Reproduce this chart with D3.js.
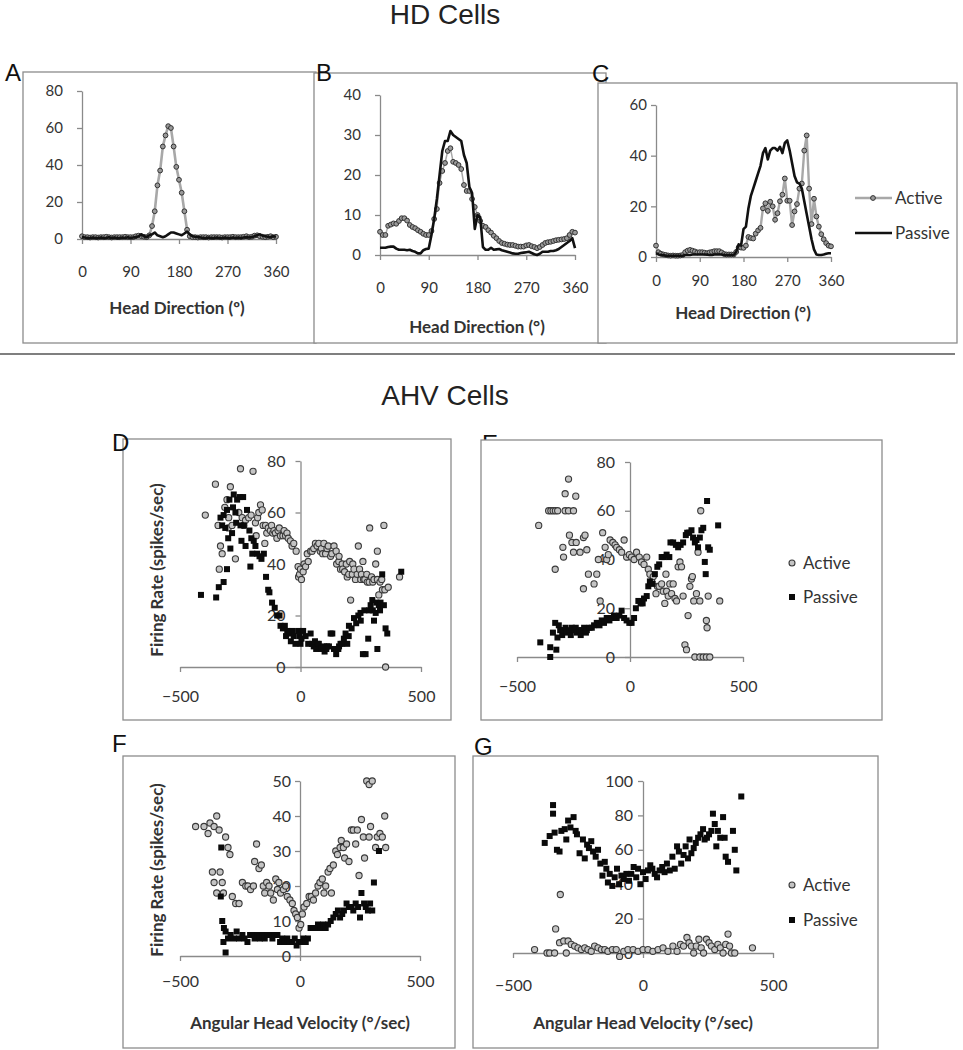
<!DOCTYPE html>
<html>
<head>
<meta charset="utf-8">
<script src="https://cdn.jsdelivr.net/npm/d3@7"></script>
<style>
  body { margin: 0; background: #fff; }
  svg text { font-family: Lato, "Open Sans", sans-serif; fill: #333; }
  .big { font-family: "Liberation Sans", Arial, sans-serif; fill: #111; }
</style>
</head>
<body>
<svg id="fig" width="963" height="1050"></svg>
<script>
// ---- HD cells: firing rate per 5 deg head-direction bin ----
const hdAngles = [0,5,10,15,20,25,30,35,40,45,50,55,60,65,70,75,80,85,90,95,100,105,110,115,120,125,130,135,140,145,150,155,160,165,170,175,180,185,190,195,200,205,210,215,220,225,230,235,240,245,250,255,260,265,270,275,280,285,290,295,300,305,310,315,320,325,330,335,340,345,350,355,360];

const aActive = [1.5,1,1,0.8,1,1,0.8,1,1,1.2, 1,0.8,1,1,1,1,1.2,1,1,1, 1.5,1.8,1.5,1.2,1,2,7,15,29,37, 50,56,61,60,50,39,32,25,15,5, 1.5,1,1,0.8,1,1,1,0.8,1,1, 1,1,0.8,1,1,1,1.2,1,1,1, 1.2,1.5,1,1.2,1.8,2,1.5,1.2,1,1.2, 1.5,1,1.2];
const aPassive = [1,0.8,0.5,0.5,0.8,0.5,0.5,0.8,0.5,0.5, 1,0.5,0.8,0.5,0.5,0.8,0.5,1,0.5,0.8, 1,1.5,2.5,1.5,1,2,2.5,3.5,2,1.5, 1,1.5,2.5,3.5,3.5,3,2.5,2,3,4, 2.5,1.5,1.2,1,0.8,0.5,0.5,0.8,0.5,0.5, 0.8,0.5,0.5,0.8,0.5,0.5,0.8,0.5,0.8,0.5, 0.8,1,0.8,1,1.5,2,2.5,1.8,1.5,1.2, 1,1.5,1.2];

const bActive = [5.8,5,5,7.3,7.6,7.9,7.8,8.5,9.2,9.2, 8.6,7.5,7,6.7,6.2,5.8,5.3,5,5,6, 9,11.5,18,21,23,26,26.7,23.3,23,22.5, 21.5,17.5,16,16,14,12,10,8.5,7.3,7, 6.2,5.6,4.8,4.2,3.5,3,2.8,2.6,2.5,2.5, 2.3,2.1,2.1,2.1,2.4,2.5,2.2,2,1.7,2, 2.5,3,3.2,3.3,3.5,3.7,3.8,3.9,4,4.2, 5,5.8,5.6];
const bPassive = [1.8,1.8,1.8,2,2.1,2.1,1.6,1.3,1.3,1.3, 1.2,1.3,1,0.8,0.4,0.4,1.2,1.5,1.6,5, 9,14,20,26,28.5,28.5,31,30,29.5,29, 28.5,25,23,17,15.5,6.5,10,9.5,2,1.3, 1.3,1.8,1.3,1.4,1.5,1.2,1,0.8,0.6,0.4, 0.3,0.3,0.5,0.6,0.7,0.8,0.5,0.2,0,0.3, 0.8,0.8,0.8,1,1,1.2,1.5,2,2.5,3, 3.5,4.2,1.7];

const cActive = [4.5,1.9,1.3,1,0.8,0.6,0.5,0.6,0.5,0.5, 0.6,0.8,1.9,2.5,2.8,2.5,2.2,1.8,1.9,1.9, 1.7,1.5,1.8,2,2.3,2.3,2.3,1.8,1.2,1, 1,1,1,2,3.8,3.7,3.6,4.5,7.9,7.5, 7.3,9.2,10.5,11.5,19.2,21.2,18.2,21.8,20,14.7, 17.3,22,24.6,31,22.2,22.2,12.6,18,20.9,27, 29,42,48,27,13,23,16,12,9,7, 5.5,4.5,4.2];
const cPassive = [1.5,1,0.8,0.8,0.5,0.5,0.5,0.5,0.5,0.5, 0.5,0.5,0.8,0.8,0.8,1,1,1,1,1, 1,1,0.8,0.8,1,1,1,1,0.8,0.8, 0.8,0.8,0.8,2,5,4.5,11,12,19,24, 27,30,33,36,41,43,38.5,42,43,43, 42,43.5,41,45,46,42,37,32,29.5,29, 27,22,17,12,7,3,1,0.8,0.8,1, 1.3,1.5,1.5];

// ---- AHV cells: [angular head velocity, firing rate] ----
const dActive = [[-395,59],[-353,71],[-342,55],[-337,38],[-332,47],[-325,44],[-314,62],[-305,65],[-300,54],[-298,58],[-291,70],[-284,55],[-270,42],[-256,60],[-249,77],[-242,58],[-235,55],[-228,57],[-215,58],[-205,59],[-197,76],[-187,56],[-184,51],[-178,58],[-173,60],[-166,63],[-159,61],[-155,55],[-148,48],[-145,55],[-140,52],[-134,54],[-125,53],[-120,55],[-115,52],[-110,53],[-104,52],[-98,50],[-93,53],[-88,54],[-83,51],[-73,51],[-68,53],[-62,51],[-56,52],[-51,50],[-42,49],[-35,47],[-28,48],[-18,45],[-10,39],[-8,35],[-4,36],[0,38],[4,34],[11,37],[15,40],[21,39],[28,44],[32,41],[42,45],[48,45],[55,46],[62,48],[69,47],[76,48],[82,45],[87,46],[92,44],[97,48],[104,44],[110,46],[115,47],[125,43],[130,44],[139,47],[148,45],[150,40],[159,41],[160,43],[166,38],[173,40],[175,38],[183,37],[190,40],[194,35],[200,36],[204,41],[208,26],[215,36],[217,40],[222,38],[228,34],[235,36],[240,47],[245,38],[250,34],[253,36],[259,41],[262,34],[267,34],[275,36],[277,33],[285,33],[287,54],[295,35],[300,33],[305,34],[312,40],[319,45],[319,34],[325,28],[330,33],[337,34],[340,30],[346,55],[350,30],[353,0],[364,31],[411,35]];
const dPassive = [[-413,28],[-350,27],[-339,31],[-319,33],[-305,38],[-332,58],[-325,55],[-312,54],[-319,59],[-305,61],[-300,50],[-295,65],[-280,62],[-277,67],[-270,60],[-263,65],[-252,66],[-238,66],[-291,46],[-284,52],[-267,56],[-249,55],[-245,49],[-235,55],[-228,47],[-222,61],[-212,53],[-204,50],[-200,44],[-194,49],[-187,47],[-180,44],[-170,43],[-162,42],[-152,44],[-208,39],[-143,35],[-134,30],[-129,29],[-118,25],[-107,23],[-97,20],[-87,20],[-83,16],[-73,15],[-65,16],[-60,12],[-55,14],[-46,13],[-40,10],[-35,14],[-28,12],[-21,9],[-10,14],[-4,12],[0,9],[4,11],[11,14],[21,12],[32,9],[42,13],[48,9],[55,8],[60,10],[65,7],[70,9],[76,9],[87,7],[97,8],[100,6],[107,7],[110,8],[118,8],[125,13],[132,13],[139,7],[148,5],[157,7],[160,8],[166,9],[173,9],[180,11],[187,13],[194,9],[200,12],[201,16],[212,15],[222,19],[231,17],[240,20],[249,21],[250,18],[259,5],[265,22],[270,5],[281,11],[285,22],[291,24],[298,26],[300,22],[305,18],[312,21],[315,25],[319,7],[325,24],[330,22],[332,25],[339,36],[346,24],[353,15],[360,13],[418,37]];

const eActive = [[-404,54],[-331,36],[-360,60],[-350,60],[-340,60],[-330,60],[-320,60],[-287,60],[-272,60],[-250,60],[-272,73],[-287,67],[-240,66],[-297,45],[-294,41],[-268,50],[-257,47],[-238,47],[-250,43],[-221,43],[-206,49],[-199,50],[-191,44],[-184,34],[-206,28],[-159,30],[-147,34],[-140,40],[-132,23],[-121,51],[-110,45],[-103,40],[-96,42],[-88,48],[-76,47],[-66,46],[-59,45],[-47,44],[-37,43],[-26,48],[-15,41],[-3,42],[7,41],[18,40],[29,43],[41,41],[51,39],[62,38],[74,41],[81,36],[88,34],[96,31],[103,33],[115,26],[121,29],[129,29],[140,30],[147,27],[154,22],[159,34],[162,27],[169,25],[176,30],[184,26],[191,30],[199,24],[206,23],[213,37],[221,39],[228,37],[235,25],[243,5],[250,3],[257,17],[265,29],[272,32],[276,33],[282,23],[294,26],[301,43],[309,23],[313,60],[287,0],[309,0],[324,0],[338,0],[353,0],[338,15],[341,12],[346,25],[397,23]];
const ePassive = [[-397,6],[-353,0],[-353,4],[-341,10],[-326,3],[-321,8],[-331,14],[-315,13],[-309,11],[-300,9],[-294,11],[-285,12],[-279,10],[-268,11],[-262,9],[-257,12],[-247,11],[-240,12],[-235,10],[-224,11],[-218,9],[-213,11],[-203,12],[-195,10],[-191,11],[-179,12],[-169,12],[-159,13],[-147,14],[-135,13],[-125,15],[-115,14],[-103,16],[-91,15],[-81,16],[-71,17],[-59,16],[-47,17],[-37,19],[-26,16],[-15,15],[-3,14],[7,14],[18,16],[26,20],[37,23],[47,22],[56,22],[62,24],[74,25],[81,29],[88,31],[100,30],[110,34],[121,37],[129,38],[140,41],[150,41],[162,42],[174,41],[179,47],[191,47],[203,46],[213,45],[224,46],[235,47],[247,50],[253,51],[262,51],[272,52],[279,49],[287,47],[294,48],[301,45],[309,49],[316,52],[324,53],[331,39],[335,34],[341,64],[346,45],[353,44],[390,54]];

const fActive = [[-435,37],[-400,37],[-383,35],[-375,38],[-358,37],[-347,40],[-337,36],[-365,24],[-358,21],[-347,18],[-333,24],[-324,21],[-319,18],[-310,34],[-300,31],[-292,29],[-282,17],[-268,15],[-254,15],[-240,21],[-226,20],[-217,20],[-206,19],[-194,20],[-189,27],[-181,32],[-171,25],[-161,26],[-153,20],[-147,18],[-139,21],[-129,20],[-122,18],[-111,16],[-101,22],[-94,19],[-88,21],[-81,18],[-69,19],[-60,20],[-53,17],[-42,16],[-32,15],[-25,13],[-18,12],[-11,11],[-4,8],[3,9],[10,12],[17,14],[28,15],[38,17],[47,17],[56,16],[65,18],[75,20],[83,21],[93,22],[100,18],[107,20],[117,24],[125,25],[131,18],[139,26],[149,30],[156,29],[167,31],[172,33],[181,31],[186,28],[194,32],[204,27],[214,36],[222,36],[232,32],[239,36],[246,23],[256,39],[264,34],[269,28],[278,50],[288,49],[301,50],[288,34],[294,37],[315,31],[322,34],[333,35],[343,34],[353,40],[357,31]];
const fPassive = [[-310,1],[-328,31],[-330,17],[-324,10],[-317,8],[-319,4],[-310,7],[-300,5],[-289,6],[-275,5],[-264,7],[-254,5],[-240,6],[-231,5],[-219,4],[-208,6],[-199,6],[-189,5],[-178,6],[-167,5],[-157,6],[-147,5],[-136,6],[-125,6],[-115,5],[-106,6],[-94,6],[-83,4],[-74,5],[-64,4],[-53,5],[-42,4],[-32,4],[-22,5],[-14,3],[-4,4],[6,4],[14,5],[24,4],[33,5],[44,8],[56,8],[65,8],[75,9],[86,8],[97,9],[107,8],[117,9],[128,10],[139,11],[149,12],[158,13],[167,11],[176,12],[183,13],[194,15],[204,14],[214,14],[222,13],[232,15],[242,14],[250,11],[256,18],[267,15],[274,14],[283,13],[292,15],[301,13],[308,21],[329,30]];

const gActive = [[-417,2],[-369,0],[-359,0],[-340,0],[-336,14],[-318,34],[-321,6],[-305,7],[-288,7],[-295,0],[-276,5],[-263,4],[-250,3],[-237,2],[-224,3],[-212,2],[-199,1],[-186,4],[-173,3],[-160,2],[-147,2],[-135,1],[-118,2],[-103,2],[-90,-2],[-74,1],[-58,2],[-38,2],[-19,1],[0,2],[19,2],[38,1],[58,2],[77,3],[96,1],[115,4],[131,1],[144,5],[156,4],[169,9],[177,6],[186,4],[195,0],[205,4],[215,8],[224,3],[233,0],[244,8],[254,6],[263,4],[276,2],[288,5],[297,3],[308,0],[318,5],[327,11],[333,4],[340,0],[353,0],[421,3]];
const gPassive = [[-378,64],[-359,68],[-346,86],[-346,81],[-340,70],[-331,60],[-321,59],[-314,71],[-301,72],[-295,66],[-288,77],[-279,73],[-267,79],[-259,71],[-254,69],[-244,58],[-231,66],[-224,55],[-215,63],[-208,61],[-199,65],[-192,59],[-182,56],[-173,60],[-164,52],[-156,45],[-147,53],[-141,49],[-135,41],[-128,46],[-118,39],[-109,44],[-100,49],[-92,40],[-83,45],[-74,43],[-64,46],[-54,42],[-45,46],[-36,50],[-26,44],[-19,49],[-10,40],[0,47],[10,43],[19,48],[28,51],[36,49],[45,46],[54,44],[64,48],[74,50],[83,47],[92,52],[103,48],[113,56],[122,49],[131,62],[138,59],[147,52],[156,57],[164,62],[173,55],[179,66],[186,58],[195,61],[203,64],[212,67],[221,69],[231,72],[237,66],[246,67],[254,69],[263,71],[269,81],[276,75],[282,62],[288,71],[297,67],[308,79],[314,67],[318,56],[327,53],[346,71],[353,60],[359,48],[378,91]];

// ---- layout ----
const svg = d3.select('#fig');

function panel(cfg) {
  const x = d3.scaleLinear().domain(cfg.xDomain).range(cfg.xRange);
  const y = d3.scaleLinear().domain(cfg.yDomain).range(cfg.yRange);
  const g = svg.append('g');
  const [bx0, by0, bx1, by1] = cfg.box;

  if (cfg.letterUnder) {
    g.append('text').attr('class', 'big').attr('x', cfg.letter[1]).attr('y', cfg.letter[2])
      .attr('font-size', 24).text(cfg.letter[0]);
  }
  g.append('rect')
    .attr('x', bx0).attr('y', by0).attr('width', bx1 - bx0).attr('height', by1 - by0)
    .attr('fill', '#fff').attr('stroke', '#8c8c8c').attr('stroke-width', 1.3);
  if (!cfg.letterUnder) {
    g.append('text').attr('class', 'big').attr('x', cfg.letter[1]).attr('y', cfg.letter[2])
      .attr('font-size', 24).text(cfg.letter[0]);
  }

  const yAxis = d3.axisLeft(y).tickValues(cfg.yTicks).tickSize(5).tickSizeOuter(0).tickPadding(cfg.yPad);
  const xAxis = d3.axisBottom(x).tickValues(cfg.xTicks).tickSize(5).tickSizeOuter(0).tickPadding(cfg.xPad);

  const gx = g.append('g').attr('transform', `translate(0,${y(0)})`).call(xAxis);
  const gy = g.append('g').attr('transform', `translate(${x(0)},0)`).call(yAxis);
  [gx, gy].forEach(a => {
    a.attr('font-family', null).attr('font-size', null);
    a.selectAll('path, line').attr('stroke', '#8a8a8a').attr('stroke-width', 1.3);
    a.selectAll('text').attr('font-size', cfg.tickFont).attr('fill', '#2a2a2a');
  });

  if (cfg.xTitle) {
    g.append('text').attr('x', cfg.xTitle[1]).attr('y', cfg.xTitle[2])
      .attr('text-anchor', 'middle').attr('font-size', 17).attr('font-weight', 'bold')
      .attr('fill', '#222').text(cfg.xTitle[0]);
  }
  if (cfg.yTitle) {
    g.append('text').attr('transform', `translate(${cfg.yTitle[1]},${cfg.yTitle[2]}) rotate(-90)`)
      .attr('text-anchor', 'middle').attr('dy', '0.35em').attr('font-size', 17).attr('font-weight', 'bold')
      .attr('fill', '#222').text(cfg.yTitle[0]);
  }
  return { g, x, y };
}

function hdLines(p, active, passive, activeWidth) {
  const pts = arr => hdAngles.map((a, i) => [a, arr[i]]);
  const line = d3.line().x(d => p.x(d[0])).y(d => p.y(d[1]));
  p.g.append('path').datum(pts(active)).attr('d', line)
    .attr('fill', 'none').attr('stroke', '#a8a8a8').attr('stroke-width', activeWidth);
  p.g.append('g').selectAll('circle').data(pts(active)).join('circle')
    .attr('cx', d => p.x(d[0])).attr('cy', d => p.y(d[1])).attr('r', 2.4)
    .attr('fill', '#9a9a9a').attr('stroke', '#333').attr('stroke-width', 1);
  p.g.append('path').datum(pts(passive)).attr('d', line)
    .attr('fill', 'none').attr('stroke', '#111').attr('stroke-width', 2.6).attr('stroke-linejoin', 'round');
}

function scatter(p, active, passive) {
  p.g.append('g').selectAll('circle').data(active).join('circle')
    .attr('cx', d => p.x(d[0])).attr('cy', d => p.y(d[1])).attr('r', 3.1)
    .attr('fill', '#c4c4c4').attr('stroke', '#3a3a3a').attr('stroke-width', 1.1);
  p.g.append('g').selectAll('rect').data(passive).join('rect')
    .attr('x', d => p.x(d[0]) - 3).attr('y', d => p.y(d[1]) - 3)
    .attr('width', 6).attr('height', 6).attr('fill', '#0a0a0a');
}

function markerLegend(x, y1, y2) {
  const g = svg.append('g');
  g.append('circle').attr('cx', x).attr('cy', y1).attr('r', 3)
    .attr('fill', '#c4c4c4').attr('stroke', '#3a3a3a').attr('stroke-width', 1.1);
  g.append('rect').attr('x', x - 3).attr('y', y2 - 3).attr('width', 6).attr('height', 6).attr('fill', '#0a0a0a');
  g.append('text').attr('x', x + 11).attr('y', y1).attr('dy', '0.35em').attr('font-size', 17).text('Active');
  g.append('text').attr('x', x + 11).attr('y', y2).attr('dy', '0.35em').attr('font-size', 17).text('Passive');
}

const hdX = [0, 90, 180, 270, 360];

// section titles
svg.append('text').attr('class', 'big').attr('x', 445).attr('y', 24).attr('text-anchor', 'middle')
  .attr('font-size', 28).style('fill', '#222').text('HD Cells');
svg.append('text').attr('class', 'big').attr('x', 445).attr('y', 405).attr('text-anchor', 'middle')
  .attr('font-size', 28).style('fill', '#222').text('AHV Cells');

// A
const pA = panel({ box: [23, 72, 316, 343], letter: ['A', 5, 81],
  xDomain: [0, 360], xRange: [82, 276], yDomain: [0, 80], yRange: [239, 91],
  xTicks: hdX, yTicks: [0, 20, 40, 60, 80], xPad: 22, yPad: 14, tickFont: 15,
  xTitle: ['Head Direction (º)', 177, 314] });
hdLines(pA, aActive, aPassive, 2.6);

// B
const pB = panel({ box: [314, 73, 606, 343], letter: ['B', 316, 81],
  xDomain: [0, 360], xRange: [380, 575], yDomain: [0, 40], yRange: [255, 95],
  xTicks: hdX, yTicks: [0, 10, 20, 30, 40], xPad: 22, yPad: 14, tickFont: 15,
  xTitle: ['Head Direction (°)', 477, 333] });
hdLines(pB, bActive, bPassive, 1.5);

// C
const pC = panel({ box: [598, 83, 957, 343], letter: ['C', 592, 82],
  xDomain: [0, 360], xRange: [656, 831], yDomain: [0, 60], yRange: [257, 105],
  xTicks: hdX, yTicks: [0, 20, 40, 60], xPad: 13, yPad: 4, tickFont: 15,
  xTitle: ['Head Direction (°)', 743, 319] });
hdLines(pC, cActive, cPassive, 2.4);

// C legend
const legC = svg.append('g');
legC.append('line').attr('x1', 855).attr('x2', 892).attr('y1', 198).attr('y2', 198)
  .attr('stroke', '#a8a8a8').attr('stroke-width', 2.4);
legC.append('circle').attr('cx', 873).attr('cy', 198).attr('r', 2.4)
  .attr('fill', '#9a9a9a').attr('stroke', '#333');
legC.append('line').attr('x1', 855).attr('x2', 892).attr('y1', 233).attr('y2', 233)
  .attr('stroke', '#111').attr('stroke-width', 2.6);
legC.append('text').attr('x', 895).attr('y', 198).attr('dy', '0.35em').attr('font-size', 17).text('Active');
legC.append('text').attr('x', 895).attr('y', 233).attr('dy', '0.35em').attr('font-size', 17).text('Passive');

// separator
svg.append('line').attr('x1', 0).attr('x2', 955).attr('y1', 354).attr('y2', 354)
  .attr('stroke', '#555').attr('stroke-width', 1.5);

// D
const pD = panel({ box: [123, 439, 451, 720], letter: ['D', 112, 451],
  xDomain: [-500, 500], xRange: [180, 421], yDomain: [0, 80], yRange: [667, 461],
  xTicks: [-500, 0, 500], yTicks: [0, 20, 40, 60, 80], xPad: 19, yPad: 10, tickFont: 16,
  yTitle: ['Firing Rate (spikes/sec)', 157, 570] });
scatter(pD, dActive, dPassive);

// E
const pE = panel({ box: [481, 440, 882, 720], letter: ['E', 482, 452], letterUnder: true,
  xDomain: [-500, 500], xRange: [517, 743], yDomain: [0, 80], yRange: [657, 462],
  xTicks: [-500, 0, 500], yTicks: [0, 20, 40, 60, 80], xPad: 19, yPad: 10, tickFont: 16 });
scatter(pE, eActive, ePassive);
markerLegend(792, 563, 597);

// F
const pF = panel({ box: [123, 756, 455, 1048], letter: ['F', 112, 752],
  xDomain: [-500, 500], xRange: [180, 420], yDomain: [0, 50], yRange: [956, 781],
  xTicks: [-500, 0, 500], yTicks: [0, 10, 20, 30, 40, 50], xPad: 15, yPad: 4, tickFont: 16,
  xTitle: ['Angular Head Velocity (°/sec)', 300, 1029],
  yTitle: ['Firing Rate (spikes/sec)', 157, 870] });
scatter(pF, fActive, fPassive);

// G
const pG = panel({ box: [473, 756, 878, 1048], letter: ['G', 474, 755],
  xDomain: [-500, 500], xRange: [513, 773], yDomain: [0, 100], yRange: [953, 781],
  xTicks: [-500, 0, 500], yTicks: [0, 20, 40, 60, 80, 100], xPad: 22, yPad: 5, tickFont: 16,
  xTitle: ['Angular Head Velocity (°/sec)', 643, 1029] });
scatter(pG, gActive, gPassive);
markerLegend(792, 885, 920);
</script>
</body>
</html>
